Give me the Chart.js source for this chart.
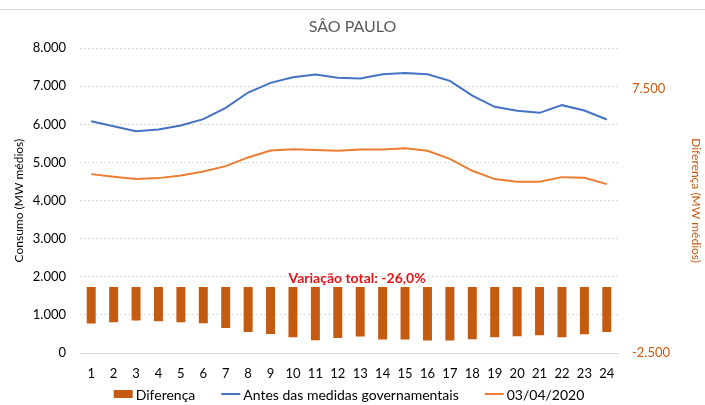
<!DOCTYPE html>
<html>
<head>
<meta charset="utf-8">
<script src="https://cdn.jsdelivr.net/npm/chart.js@4.4.1/dist/chart.umd.min.js"></script>
<style>
  html, body { margin: 0; padding: 0; background: #fff; }
  #wrap { position: relative; width: 705px; height: 405px; }
  #topline { position: absolute; left: 0; top: 9px; width: 705px; height: 1px; background: #dedede; }
</style>
</head>
<body>
<div id="wrap">
  <div id="topline"></div>
  <canvas id="c" width="705" height="405"></canvas>
</div>
<script>
const categories = ['1','2','3','4','5','6','7','8','9','10','11','12','13','14','15','16','17','18','19','20','21','22','23','24'];
const antes = [6085, 5954, 5823, 5867, 5972, 6138, 6435, 6837, 7090, 7240, 7310, 7222, 7204, 7318, 7352, 7318, 7142, 6758, 6461, 6356, 6303, 6505, 6365, 6129];
const abril = [4695, 4625, 4564, 4590, 4660, 4765, 4905, 5133, 5316, 5351, 5325, 5307, 5343, 5343, 5377, 5307, 5097, 4782, 4564, 4494, 4494, 4616, 4599, 4433];
const diferenca = [-1388, -1339, -1274, -1301, -1339, -1377, -1554, -1705, -1781, -1906, -2019, -1932, -1880, -1993, -1993, -2031, -2031, -1982, -1906, -1868, -1830, -1906, -1793, -1705];
const leftTicks = [0, 1000, 2000, 3000, 4000, 5000, 6000, 7000, 8000];
const rightTicks = [-2500, 7500];
const annotationText = 'Variação total: -26,0%';

const FONT = 'Lato, "Open Sans", sans-serif';
const BROWN = '#C55A11';
function fmt(v) { const s = String(Math.abs(v)).replace(/\B(?=(\d{3})+(?!\d))/g, '.'); return (v < 0 ? '-' : '') + s; }

const annotationPlugin = {
  id: 'varTotal',
  afterDatasetsDraw(chart) {
    const ctx = chart.ctx;
    const xs = chart.scales.x;
    const x = xs.getPixelForValue(11) + 0.86 * (xs.getPixelForValue(12) - xs.getPixelForValue(11));
    const y = chart.scales.y.getPixelForValue(1950);
    ctx.save();
    ctx.font = 'bold 14px ' + FONT;
    ctx.fillStyle = '#E3151B';
    ctx.textAlign = 'center';
    ctx.textBaseline = 'middle';
    ctx.fillText(annotationText, x, y);
    ctx.restore();
  }
};

const legendPlugin = {
  id: 'customLegend',
  afterDraw(chart) {
    const ctx = chart.ctx;
    ctx.save();
    ctx.font = '14px ' + FONT;
    ctx.textBaseline = 'middle';
    ctx.textAlign = 'left';
    const items = chart.data.datasets.map(ds => ({
      text: ds.label,
      kind: ds.type,
      color: ds.type === 'bar' ? ds.backgroundColor : ds.borderColor
    }));
    const symW = 19, symGap = 3, itemGap = 26;
    let total = 0;
    items.forEach((it, i) => { it.w = symW + symGap + ctx.measureText(it.text).width; total += it.w + (i ? itemGap : 0); });
    const ca = chart.chartArea;
    let x = (ca.left + ca.right) / 2 - total / 2;
    const y = chart.height - 11;
    items.forEach(it => {
      if (it.kind === 'bar') {
        ctx.fillStyle = it.color;
        ctx.fillRect(x, y - 4, symW, 8);
      } else {
        ctx.strokeStyle = it.color;
        ctx.lineWidth = 2;
        ctx.beginPath();
        ctx.moveTo(x, y);
        ctx.lineTo(x + symW, y);
        ctx.stroke();
      }
      ctx.fillStyle = '#000';
      ctx.fillText(it.text, x + symW + symGap, y + 1);
      x += it.w + itemGap;
    });
    ctx.restore();
  }
};

new Chart(document.getElementById('c'), {
  data: {
    labels: categories,
    datasets: [
      { type: 'bar', label: 'Diferença', data: diferenca, yAxisID: 'y1', backgroundColor: BROWN, barPercentage: 0.4, categoryPercentage: 1.0, order: 2 },
      { type: 'line', label: 'Antes das medidas governamentais', data: antes, yAxisID: 'y', borderColor: '#4472C4', backgroundColor: '#4472C4', borderWidth: 2, pointRadius: 0, tension: 0, order: 1 },
      { type: 'line', label: '03/04/2020', data: abril, yAxisID: 'y', borderColor: '#ED7D31', backgroundColor: '#ED7D31', borderWidth: 2, pointRadius: 0, tension: 0, order: 1 }
    ]
  },
  options: {
    responsive: false,
    animation: false,
    layout: { padding: { left: 0, right: 0, top: 0, bottom: 25 } },
    plugins: {
      title: { display: true, text: 'SÂO PAULO', color: '#595959', font: { family: FONT, size: 16, weight: 'normal' }, padding: { top: 17, bottom: 12 } },
      legend: { display: false },
      tooltip: { enabled: false }
    },
    scales: {
      x: {
        offset: true,
        grid: { display: false },
        border: { display: true, color: '#d9d9d9', width: 1 },
        ticks: { color: '#000', font: { family: FONT, size: 13 }, padding: 5, maxRotation: 0, autoSkip: false },
        afterFit(scale) { scale.height = 27; }
      },
      y: {
        position: 'left',
        min: 0, max: 8000,
        afterBuildTicks(scale) { scale.ticks = leftTicks.map(v => ({ value: v })); },
        grid: { color: '#d9d9d9', lineWidth: 1, drawTicks: false },
        border: { display: false, dash: [2, 2] },
        ticks: { color: '#000', font: { family: FONT, size: 13 }, padding: 14, callback: v => fmt(v) },
        title: { display: true, text: 'Consumo (MW médios)', color: '#000', font: { family: FONT, size: 12 }, padding: { top: 12, bottom: 0 } },
        afterFit(scale) { scale.width = 80; }
      },
      y1: {
        position: 'right',
        min: -2500, max: 9035,
        afterBuildTicks(scale) { scale.ticks = rightTicks.map(v => ({ value: v })); },
        grid: { display: false, drawTicks: false },
        border: { display: false },
        ticks: { color: BROWN, font: { family: FONT, size: 13 }, padding: 14, callback: v => fmt(v) },
        title: { display: true, text: 'Diferença (MW médios)', color: BROWN, font: { family: FONT, size: 12 }, padding: { top: 2, bottom: 0 } },
        afterFit(scale) { scale.width = 87; }
      }
    }
  },
  plugins: [annotationPlugin, legendPlugin]
});
</script>
</body>
</html>
